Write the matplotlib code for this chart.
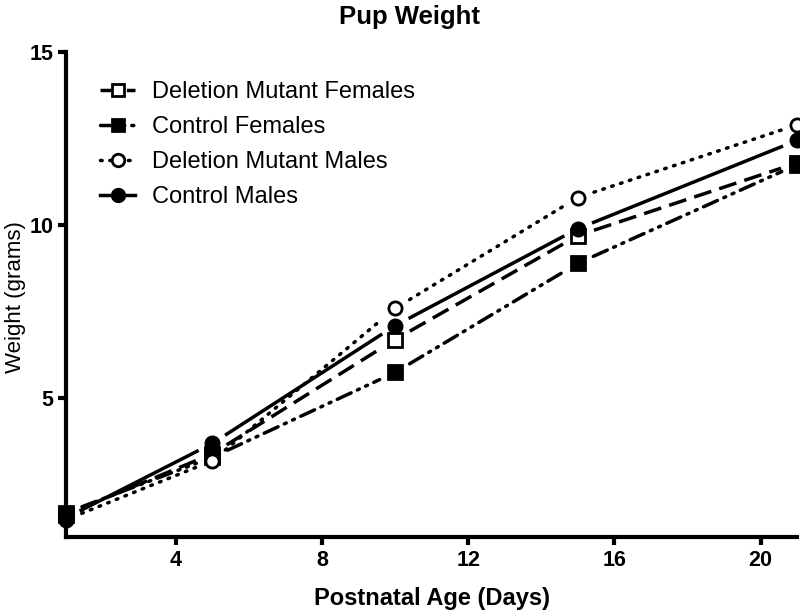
import numpy as np
import matplotlib.pyplot as plt
from matplotlib.lines import Line2D

plt.rcParams["font.family"] = ["Liberation Sans", "DejaVu Sans"]
plt.rcParams["lines.scale_dashes"] = False

days = [1, 5, 10, 15, 21]
dm_females = [1.65, 3.4, 6.7, 9.7, 11.8]
ctrl_females = [1.7, 3.3, 5.75, 8.9, 11.75]
dm_males = [1.5, 3.2, 7.6, 10.8, 12.9]
ctrl_males = [1.55, 3.7, 7.1, 9.9, 12.45]

labels = ["Deletion Mutant Females", "Control Females",
          "Deletion Mutant Males", "Control Males"]


def gapped_line(ax, x, y, gap_px, **kw):
    """Draw a polyline that stops short of each marker (GraphPad style)."""
    pts = ax.transData.transform(np.column_stack([x, y]))
    inv = ax.transData.inverted()
    for p0, p1 in zip(pts[:-1], pts[1:]):
        d = p1 - p0
        u = d / np.hypot(*d)
        seg = inv.transform([p0 + u * gap_px, p1 - u * gap_px])
        ax.plot(seg[:, 0], seg[:, 1], color="black", lw=2.5, zorder=2, **kw)


fig = plt.figure(figsize=(8, 6.12), dpi=100)
ax = fig.add_axes([0.0825, 0.1225, 0.914, 0.7925])
ax.set_xlim(1, 21)
ax.set_ylim(1, 15)

styles = [
    (dm_females, dict(dashes=(13, 6)), "s", "white"),
    (ctrl_females, dict(dashes=(11, 5, 1.5, 5, 1.5, 5), dash_capstyle="round"), "s", "black"),
    (dm_males, dict(dashes=(1.2, 5.5), dash_capstyle="round"), "o", "white"),
    (ctrl_males, dict(linestyle="-"), "o", "black"),
]

handles = []
for vals, ls, mk, fc in styles:
    gapped_line(ax, days, vals, 17, **ls)
    ax.plot(days, vals, linestyle="none", marker=mk, ms=9.5, mfc=fc, mec="black",
            mew=2, zorder=3, clip_on=False)
    handles.append(Line2D([], [], color="black", lw=2.5, marker=mk, ms=9, mfc=fc,
                          mec="black", mew=2, **ls))

for side in ["top", "right"]:
    ax.spines[side].set_visible(False)
for side in ["left", "bottom"]:
    ax.spines[side].set_linewidth(3)

ax.set_xticks([4, 8, 12, 16, 20])
ax.set_yticks([5, 10, 15])
ax.tick_params(direction="out", length=6, width=3, labelsize=15.5, pad=3)
for lab in ax.get_xticklabels() + ax.get_yticklabels():
    lab.set_fontweight("bold")

ax.set_xlabel("Postnatal Age (Days)", fontsize=17, fontweight="bold", labelpad=12)
fig.text(0.019, 0.515, "Weight (grams)", rotation=90, fontsize=16,
         ha="center", va="center")
fig.text(0.512, 0.972, "Pup Weight", fontsize=18.5, fontweight="bold",
         ha="center", va="center")

fig.legend(handles, labels, loc="upper left", bbox_to_anchor=(100 / 800, 1 - 81 / 612),
           bbox_transform=fig.transFigure, frameon=False, fontsize=17,
           handlelength=1.5, handletextpad=0.7, labelspacing=0.55,
           borderpad=0, borderaxespad=0, numpoints=1)

fig.savefig("out.png", dpi=100)
